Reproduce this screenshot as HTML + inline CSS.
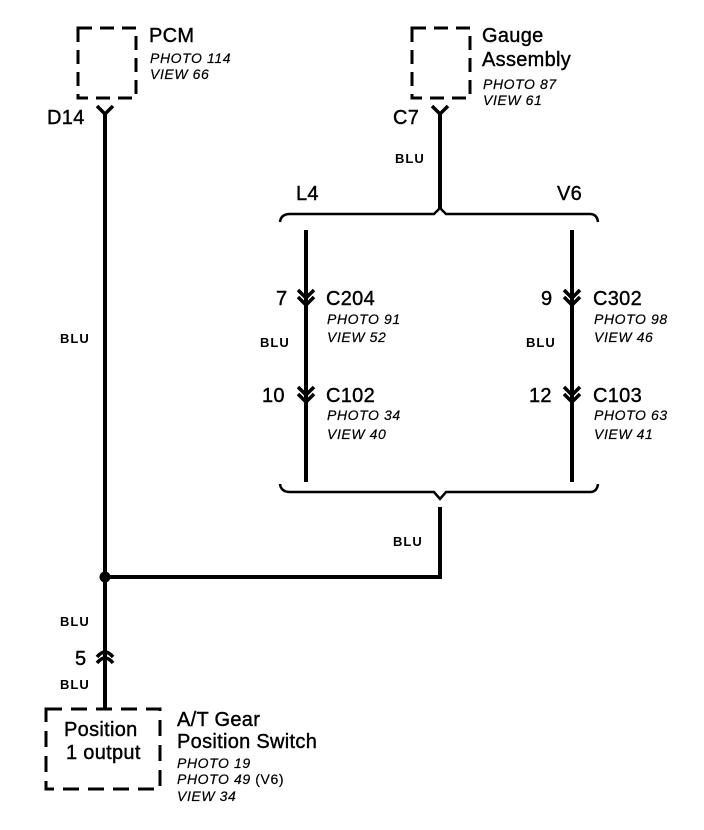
<!DOCTYPE html>
<html><head><meta charset="utf-8"><style>
html,body{margin:0;padding:0;background:#fff;}
svg{display:block}
text{font-family:"Liberation Sans",Arial,sans-serif;fill:#000}
.b{font-size:20px;stroke:#000;stroke-width:0.4;letter-spacing:0.3px}
.i{font-size:14px;font-style:italic;letter-spacing:0.6px;stroke:#000;stroke-width:0.2}
.s{font-size:13px;font-weight:bold;letter-spacing:1px}
</style></head><body>
<svg width="704" height="830" viewBox="0 0 704 830" xmlns="http://www.w3.org/2000/svg">
<g fill="none" stroke="#000">
 <rect x="78" y="28" width="58" height="70" stroke-width="3" stroke-dasharray="14,8"/>
 <rect x="412" y="28" width="58" height="70" stroke-width="3" stroke-dasharray="14,8"/>
 <rect x="46" y="709" width="114" height="80" stroke-width="3" stroke-dasharray="16,9"/>
 <g stroke-width="4">
  <line x1="105" y1="112" x2="105" y2="709"/>
  <line x1="105" y1="577" x2="440" y2="577"/>
  <line x1="440" y1="579" x2="440" y2="507"/>
  <line x1="440" y1="112" x2="440" y2="208"/>
  <line x1="306" y1="230" x2="306" y2="482"/>
  <line x1="572" y1="230" x2="572" y2="482"/>
 </g>
 <path d="M280 222 Q281 214 290 214 L434 214 L440 208 L446 214 L590 214 Q597 214 598 222" stroke-width="2.5"/>
 <path d="M280 484 Q281 492 290 492 L434 492 L440 499 L446 492 L590 492 Q597 492 598 484" stroke-width="2.5"/>
 <g stroke-width="3.5">
  <path d="M97 106 L105 114 L113 106"/>
  <path d="M432 106 L440 114 L448 106"/>
  <path d="M298 290 L306 298 L314 290 M298 297 L306 305 L314 297"/>
  <path d="M564 290 L572 298 L580 290 M564 297 L572 305 L580 297"/>
  <path d="M298 387 L306 395 L314 387 M298 394 L306 402 L314 394"/>
  <path d="M564 387 L572 395 L580 387 M564 394 L572 402 L580 394"/>
  <path d="M97 657 Q105 647 113 657 M97 663 Q105 653 113 663"/>
 </g>
</g>
<circle cx="105" cy="577" r="5.5" fill="#000"/>

<text class="b" x="149" y="42">PCM</text>
<text class="i" x="150" y="63">PHOTO 114</text>
<text class="i" x="150" y="79">VIEW 66</text>
<text class="b" x="47" y="124">D14</text>

<text class="b" x="482" y="42">Gauge</text>
<text class="b" x="482" y="66">Assembly</text>
<text class="i" x="483" y="89">PHOTO 87</text>
<text class="i" x="483" y="105">VIEW 61</text>
<text class="b" x="393" y="124">C7</text>

<text class="s" x="395" y="163">BLU</text>
<text class="b" x="296" y="200">L4</text>
<text class="b" x="557" y="200">V6</text>

<text class="b" x="276" y="305">7</text>
<text class="b" x="326" y="305">C204</text>
<text class="i" x="327" y="324">PHOTO 91</text>
<text class="i" x="327" y="342">VIEW 52</text>
<text class="s" x="260" y="347">BLU</text>
<text class="b" x="262" y="402">10</text>
<text class="b" x="326" y="402">C102</text>
<text class="i" x="327" y="420">PHOTO 34</text>
<text class="i" x="327" y="439">VIEW 40</text>

<text class="b" x="541" y="305">9</text>
<text class="b" x="593" y="305">C302</text>
<text class="i" x="594" y="324">PHOTO 98</text>
<text class="i" x="594" y="342">VIEW 46</text>
<text class="s" x="526" y="347">BLU</text>
<text class="b" x="529" y="402">12</text>
<text class="b" x="593" y="402">C103</text>
<text class="i" x="594" y="420">PHOTO 63</text>
<text class="i" x="594" y="439">VIEW 41</text>

<text class="s" x="60" y="343">BLU</text>
<text class="s" x="393" y="546">BLU</text>
<text class="s" x="60" y="626">BLU</text>
<text class="b" x="75" y="665">5</text>
<text class="s" x="60" y="689">BLU</text>

<text class="b" x="64" y="736">Position</text>
<text class="b" x="66" y="759">1 output</text>
<text class="b" x="177" y="726">A/T Gear</text>
<text class="b" x="177" y="748">Position Switch</text>
<text class="i" x="177" y="768">PHOTO 19</text>
<text class="i" x="177" y="784">PHOTO 49 <tspan font-style="normal">(V6)</tspan></text>
<text class="i" x="177" y="801">VIEW 34</text>
</svg>
</body></html>
